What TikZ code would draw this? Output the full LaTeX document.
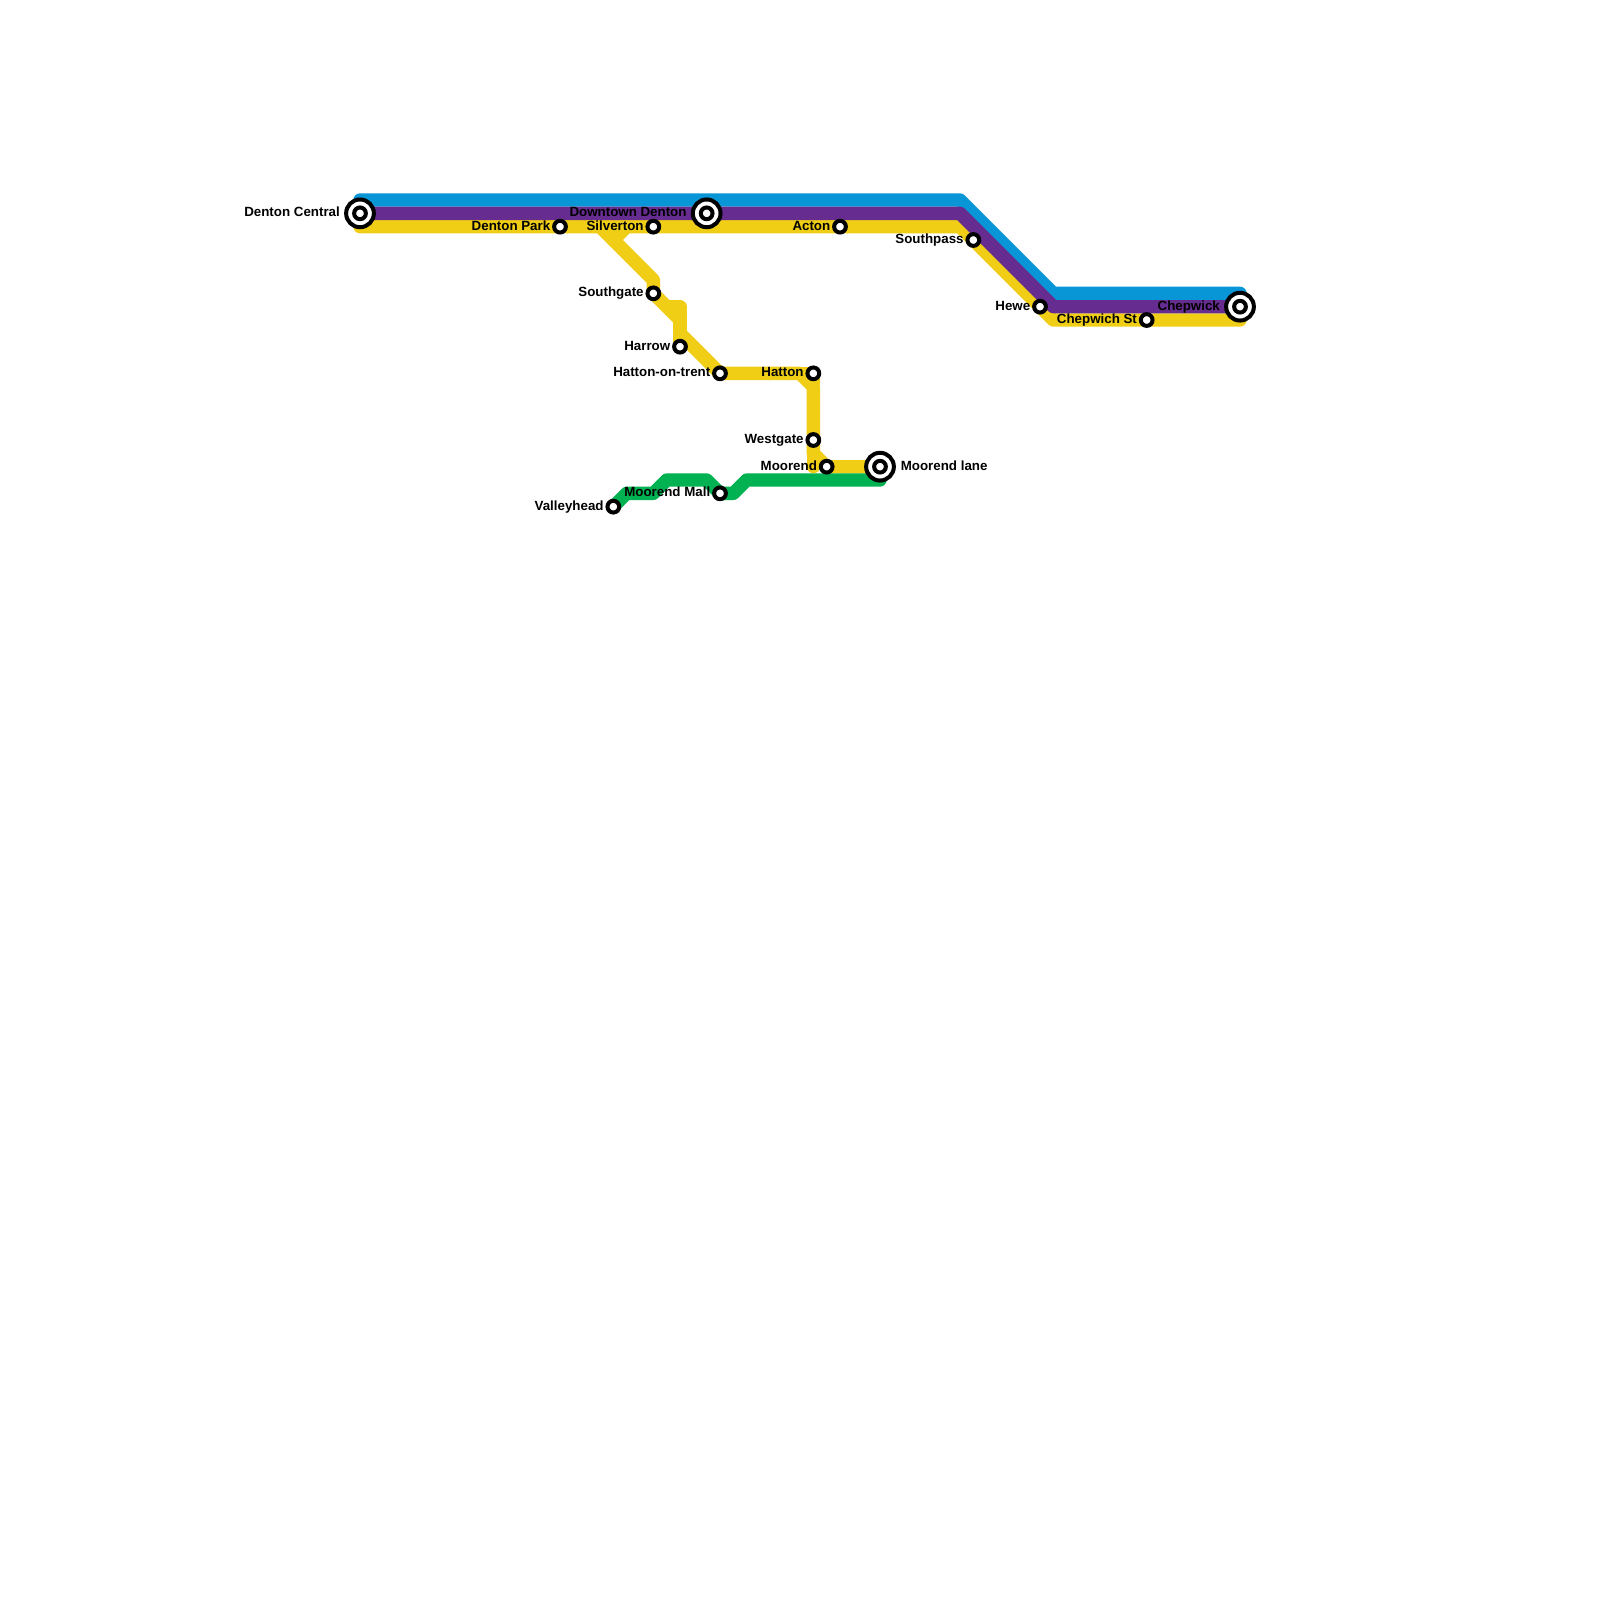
\documentclass[tikz,border=0pt]{standalone}
\usepackage{fontspec}
\setmainfont{Liberation Sans}
\usetikzlibrary{positioning, backgrounds}
\definecolor{lineblue}{HTML}{0896D7}
\definecolor{linepurple}{HTML}{662C90}
\definecolor{lineyellow}{HTML}{F0CE15}
\definecolor{linegreen}{HTML}{00B251}

\begin{document}
\begin{tikzpicture}[x=10pt, y=-10pt, line/.style={line width=10pt, line cap=round, line join=round}, stop/.style={circle, draw=black, fill=white, line width=3pt, minimum size=8.8pt, inner sep=0pt}, hub/.style={stop, minimum size=20.8pt}, tag/.style={font=\bfseries\fontsize{10}{10}\selectfont, inner sep=0pt, text height=7pt, text depth=2pt}]

\useasboundingbox (0,0) rectangle (120,120);

% interchanges
\node[hub] (dentonring) at (27,16) {}; \node[stop] (denton) at (27,16) {}; \node[tag, left=3pt of dentonring] (dentonname) {Denton Central};
\node[hub] (downtownring) at (53,16) {}; \node[stop] (downtown) at (53,16) {}; \node[tag, left=3pt of downtownring] (downtownname) {Downtown Denton};
\node[hub] (chepwickring) at (93,23) {}; \node[stop] (chepwick) at (93,23) {}; \node[tag, left=3pt of chepwickring] (chepwickname) {Chepwick};
\node[hub] (lanering) at (66,35) {}; \node[stop] (lane) at (66,35) {}; \node[tag, right=3.5pt of lanering] (lanename) {Moorend lane};

% stations
\node[stop] (park) at (42,17) {}; \node[tag, left=1.2pt of park] (parkname) {Denton Park};
\node[stop] (silverton) at (49,17) {}; \node[tag, left=1.2pt of silverton] (silvertonname) {Silverton};
\node[stop] (acton) at (63,17) {}; \node[tag, left=1.2pt of acton] (actonname) {Acton};
\node[stop] (southpass) at (73,18) {}; \node[tag, left=1.2pt of southpass] (southpassname) {Southpass};
\node[stop] (hewe) at (78,23) {}; \node[tag, left=1.2pt of hewe] (hewename) {Hewe};
\node[stop] (chepst) at (86,24) {}; \node[tag, left=1.2pt of chepst] (chepstname) {Chepwich St};
\node[stop] (southgate) at (49,22) {}; \node[tag, left=1.2pt of southgate] (southgatename) {Southgate};
\node[stop] (harrow) at (51,26) {}; \node[tag, left=1.2pt of harrow] (harrowname) {Harrow};
\node[stop] (trent) at (54,28) {}; \node[tag, left=1.2pt of trent] (trentname) {Hatton-on-trent};
\node[stop] (hatton) at (61,28) {}; \node[tag, left=1.2pt of hatton] (hattonname) {Hatton};
\node[stop] (westgate) at (61,33) {}; \node[tag, left=1.2pt of westgate] (westgatename) {Westgate};
\node[stop] (moorend) at (62,35) {}; \node[tag, left=1.2pt of moorend] (moorendname) {Moorend};
\node[stop] (mall) at (54,37) {}; \node[tag, left=1.2pt of mall] (mallname) {Moorend Mall};
\node[stop] (valley) at (46,38) {}; \node[tag, left=1.2pt of valley] (valleyname) {Valleyhead};

\begin{scope}[on background layer]
\fill[white] (0,0) rectangle (120,120);
\coordinate (B1) at (27,15); \coordinate (B2) at (72,15); \coordinate (B3) at (79,22); \coordinate (B4) at (93,22);
\draw[line, lineblue] (B1)--(B2)--(B3)--(B4);
% yellow trunk and branch
\coordinate (Y1) at (27,17); \coordinate (Y2) at (72,17); \coordinate (Y3) at (79,24); \coordinate (Y4) at (93,24);
\draw[line, lineyellow] (Y1)--(Y2)--(Y3)--(Y4);
\coordinate (S1) at (45,17); \coordinate (S2) at (47,17); \coordinate (S3) at (46,18); \coordinate (S4) at (49,21); \coordinate (S5) at (50,23); \coordinate (S6) at (51,23); \coordinate (S7) at (51,25); \coordinate (S12) at (51,24);
\draw[line, lineyellow] (S1)--(S3)--(S2);
\draw[line, lineyellow] (S3)--(S4)--(southgate.center)--(S12);
\draw[line, lineyellow] (S5)--(S6)--(harrow.center);
\coordinate (S8) at (60,28); \coordinate (S9) at (61,29); \coordinate (S10) at (61,34); \coordinate (S11) at (61,35);
\draw[line, lineyellow] (S7)--(trent.center)--(S8)--(S9)--(S10)--(moorend.center)--(lane.center);
\draw[line, lineyellow] (S8)--(hatton.center)--(S9);
\draw[line, lineyellow] (S10)--(S11);
% green
\coordinate (G1) at (47,37); \coordinate (G2) at (49,37); \coordinate (G3) at (50,36); \coordinate (G4) at (53,36); \coordinate (G5) at (55,37); \coordinate (G6) at (56,36); \coordinate (G7) at (66,36);
\draw[line, linegreen] (valley.center)--(G1)--(G2)--(G3)--(G4)--(mall.center)--(G5)--(G6)--(G7);
% purple last
\coordinate (P1) at (72,16); \coordinate (P2) at (79,23);
\draw[line, linepurple] (denton.center)--(P1)--(P2)--(chepwick.center);
\end{scope}
\end{tikzpicture}
\end{document}
